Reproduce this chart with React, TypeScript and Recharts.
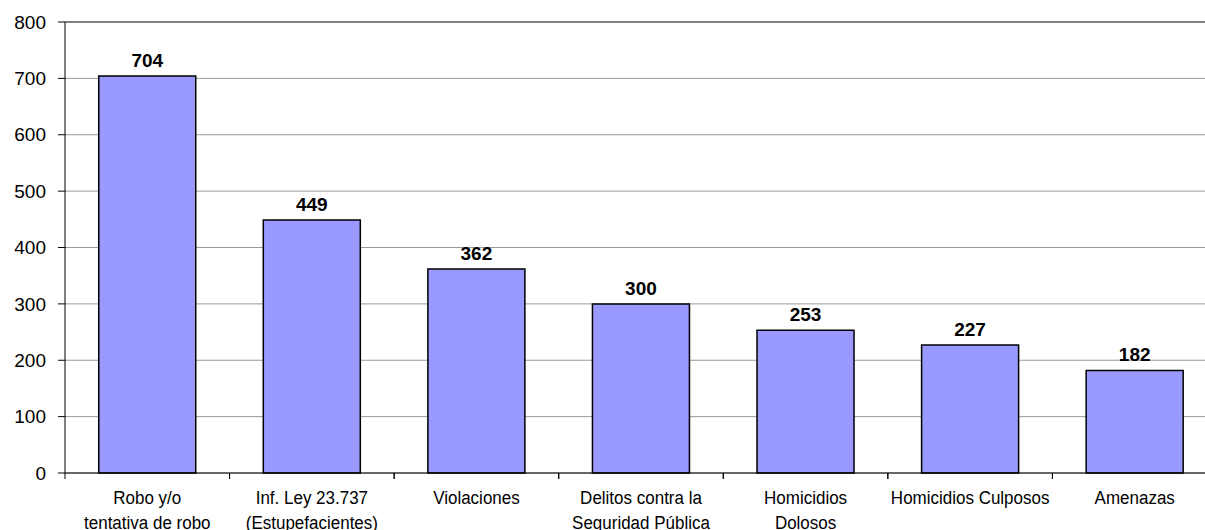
import { BarChart, Bar, XAxis, YAxis, CartesianGrid, LabelList, ReferenceLine } from 'recharts';

const categories = [
  'Robo y/o\ntentativa de robo',
  'Inf. Ley 23.737\n(Estupefacientes)',
  'Violaciones',
  'Delitos contra la\nSeguridad Pública',
  'Homicidios\nDolosos',
  'Homicidios Culposos',
  'Amenazas',
];
const values = [704, 449, 362, 300, 253, 227, 182];
const yTicks = [0, 100, 200, 300, 400, 500, 600, 700, 800];

const data = categories.map((name, i) => ({ name, value: values[i] }));

const CHART_W = 1217;
const CHART_H = 530;
const Y_AXIS_W = 65;
const BAND = (CHART_W - Y_AXIS_W) / categories.length;
const FONT = '"Liberation Sans", Arial, sans-serif';

const CategoryTick = (props: any) => {
  const { x, y, payload } = props;
  const lines = String(payload.value).split('\n');
  const cx = Number(x);
  const cy = Number(y);
  return (
    <g>
      <line x1={cx - BAND / 2} x2={cx - BAND / 2} y1={cy} y2={cy + 6} stroke="#000" />
      <line x1={cx + BAND / 2} x2={cx + BAND / 2} y1={cy} y2={cy + 6} stroke="#000" />
      <text
        transform={`translate(${cx},${cy + 31}) scale(1,1.12)`}
        textAnchor="middle"
        fontSize={17}
        fontFamily={FONT}
        fill="#000"
      >
        {lines.map((l, i) => (
          <tspan key={i} x={0} y={i * 22.3}>
            {l}
          </tspan>
        ))}
      </text>
    </g>
  );
};

const ValueLabel = (props: any) => {
  const { x, y, width, value } = props;
  return (
    <text
      x={Number(x) + Number(width) / 2}
      y={Number(y) - 9}
      textAnchor="middle"
      fontSize={19}
      fontWeight="bold"
      fontFamily={FONT}
      fill="#000"
    >
      {value}
    </text>
  );
};

export default function App() {
  return (
    <div style={{ position: 'absolute', left: 0, top: 0, width: 1205, height: 530, overflow: 'hidden', background: '#fff' }}>
      <BarChart
        width={CHART_W}
        height={CHART_H}
        data={data}
        margin={{ top: 22, right: 0, bottom: 0, left: 0 }}
        barCategoryGap="20.5%"
      >
        <CartesianGrid horizontal vertical={false} stroke="#9a9a9a" strokeWidth={1} />
        <ReferenceLine y={800} stroke="#808080" strokeWidth={2} />
        <XAxis
          dataKey="name"
          height={57}
          interval={0}
          tickSize={0}
          tickMargin={0}
          tickLine={false}
          axisLine={{ stroke: '#000', strokeWidth: 1 }}
          tick={<CategoryTick />}
        />
        <YAxis
          width={Y_AXIS_W}
          domain={[0, 800]}
          ticks={yTicks}
          interval={0}
          tickSize={7}
          tickMargin={12}
          axisLine={{ stroke: '#000', strokeWidth: 1 }}
          tickLine={{ stroke: '#000' }}
          tick={{ fontSize: 19, fill: '#000', fontFamily: FONT }}
        />
        <Bar dataKey="value" fill="#9999ff" stroke="#000" strokeWidth={1.5} isAnimationActive={false}>
          <LabelList dataKey="value" content={<ValueLabel />} />
        </Bar>
      </BarChart>
    </div>
  );
}
